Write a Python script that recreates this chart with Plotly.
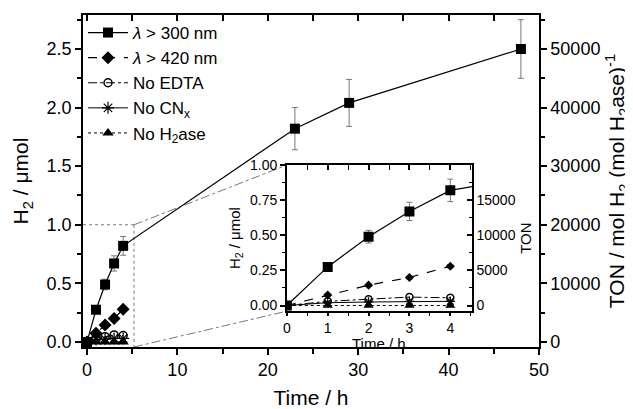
import plotly.graph_objects as go

# ---------------- data ----------------
t_short = [0, 1, 2, 3, 4]
t_long = [0, 1, 2, 3, 4, 23, 29, 48]
h2_300 = [0.0, 0.275, 0.49, 0.67, 0.82, 1.82, 2.04, 2.50]
err_300 = [0.005, 0.02, 0.045, 0.065, 0.08, 0.18, 0.20, 0.25]
h2_420 = [0.0, 0.075, 0.145, 0.20, 0.28]
err_420 = [0.003, 0.006, 0.008, 0.01, 0.012]
h2_noedta = [0.0, 0.03, 0.045, 0.06, 0.055]
h2_nocn = [0.0, 0.02, 0.025, 0.03, 0.03]
h2_noh2ase = [0.0, 0.0, 0.0, 0.0, 0.0]
ton_factor = 20000  # mol H2 per mol H2ase per umol H2
ton_main_ticks = [0, 10000, 20000, 30000, 40000, 50000]
ton_inset_ticks = [0, 5000, 10000, 15000]
zoom_box = (5.2, 1.0)  # region of main plot magnified in the inset

names = ["<i>λ</i> > 300 nm", "<i>λ</i> > 420 nm", "No EDTA",
         "No CN<sub>x</sub>", "No H<sub>2</sub>ase"]

FONT = "Liberation Sans, Arial, sans-serif"
GRAY = "#777777"

# ---------------- layout numbers ----------------
main_x_range = [-0.44, 50]
main_y_range = [-0.043, 2.79]
ins_x_range = [0, 4.53]
ins_y_range = [-0.04, 1.0]
ins_xdom = [0.447, 0.853]
ins_ydom = [0.108, 0.548]

fig = go.Figure()


def series(xa, ya, big):
    out = []
    out.append(go.Scatter(
        x=t_long, y=h2_300, name=names[0], mode="lines+markers",
        line=dict(color="black", width=1.2, dash="solid"),
        marker=dict(symbol="square", size=10, color="black"),
        error_y=dict(type="data", array=err_300, color=GRAY, thickness=1, width=3),
        xaxis=xa, yaxis=ya, showlegend=big, legendrank=1))
    out.append(go.Scatter(
        x=t_short, y=h2_420, name=names[1], mode="lines+markers",
        line=dict(color="black", width=1.2, dash="dash"),
        marker=dict(symbol="diamond", size=10 if big else 7, color="black"),
        error_y=dict(type="data", array=err_420, color=GRAY, thickness=1, width=3),
        xaxis=xa, yaxis=ya, showlegend=big, legendrank=2))
    out.append(go.Scatter(
        x=t_short, y=h2_noedta, name=names[2], mode="lines+markers",
        line=dict(color="black", width=1, dash="dashdot"),
        marker=dict(symbol="circle-open", size=8 if big else 7, color="black",
                    line=dict(width=1.5)),
        xaxis=xa, yaxis=ya, showlegend=big, legendrank=3))
    out.append(go.Scatter(
        x=t_short, y=h2_nocn, name=names[3], mode="lines+markers",
        line=dict(color="black", width=1, dash="solid"),
        marker=dict(symbol="asterisk-open", size=10 if big else 8, color="black",
                    line=dict(width=1.2, color="black")),
        xaxis=xa, yaxis=ya, showlegend=big, legendrank=4))
    out.append(go.Scatter(
        x=t_short, y=h2_noh2ase, name=names[4], mode="lines+markers",
        line=dict(color="black", width=1, dash="dot"),
        marker=dict(symbol="triangle-up", size=10 if big else 9, color="black"),
        xaxis=xa, yaxis=ya, showlegend=big, legendrank=5))
    return out


for tr in series("x", "y", True):
    fig.add_trace(tr)
for tr in series("x3", "y3", False):
    fig.add_trace(tr)

# invisible traces to activate the secondary (TON / top) axes
fig.add_trace(go.Scatter(x=t_long, y=[v * ton_factor for v in h2_300],
                         xaxis="x2", yaxis="y2", mode="markers",
                         marker=dict(opacity=0), showlegend=False, hoverinfo="skip"))
fig.add_trace(go.Scatter(x=t_short, y=[v * ton_factor for v in h2_420],
                         xaxis="x4", yaxis="y4", mode="markers",
                         marker=dict(opacity=0), showlegend=False, hoverinfo="skip"))

common = dict(showline=True, linecolor="black", linewidth=1.5, showgrid=False,
              zeroline=False, tickcolor="black", tickwidth=1.5, automargin=False)


def axtitle(text, size, standoff):
    return dict(text=text, font=dict(family=FONT, size=size, color="black"),
                standoff=standoff)


# inset corner positions in main-axis data coordinates
def px(fx):
    return main_x_range[0] + fx * (main_x_range[1] - main_x_range[0])


def py(fy):
    return main_y_range[0] + fy * (main_y_range[1] - main_y_range[0])


ins_left = px(ins_xdom[0])
ins_top = py(ins_ydom[1])
ins_bot = py(ins_ydom[0])

line_style = dict(color=GRAY, width=1, dash="dot")
shapes = [
    dict(type="line", xref="x", yref="y", x0=main_x_range[0], y0=zoom_box[1],
         x1=zoom_box[0], y1=zoom_box[1], line=line_style, layer="below"),
    dict(type="line", xref="x", yref="y", x0=zoom_box[0], y0=zoom_box[1],
         x1=zoom_box[0], y1=main_y_range[0], line=line_style, layer="below"),
    dict(type="line", xref="x", yref="y", x0=zoom_box[0], y0=zoom_box[1],
         x1=ins_left, y1=ins_top, line=dict(color=GRAY, width=1, dash="dashdot"),
         layer="below"),
    dict(type="line", xref="x", yref="y", x0=zoom_box[0], y0=main_y_range[0],
         x1=ins_left, y1=ins_bot, line=dict(color=GRAY, width=1, dash="dashdot"),
         layer="below"),
]

tf_main = dict(family=FONT, size=18, color="black")
tf_ins = dict(family=FONT, size=14, color="black")

# page body has an 8px margin, so the figure is slightly smaller than the window
fig.update_layout(
    width=625, height=401,
    margin=dict(l=75, r=94, t=7, b=62),
    paper_bgcolor="white", plot_bgcolor="white",
    font=dict(family=FONT, color="black"),
    showlegend=True,
    legend=dict(x=0.0, y=1.0, xanchor="left", yanchor="top",
                bgcolor="rgba(0,0,0,0)", font=dict(family=FONT, size=17, color="black"),
                tracegroupgap=0, itemwidth=40),
    shapes=shapes,
    annotations=[dict(text="Time / h", xref="paper", yref="paper",
                      x=(ins_xdom[0] + ins_xdom[1]) / 2, y=0.01,
                      xanchor="center", yanchor="middle", showarrow=False,
                      font=dict(family=FONT, size=15, color="black"))],
    xaxis=dict(**common, domain=[0, 1], anchor="y", range=main_x_range, dtick=10,
               tick0=0, ticks="outside", ticklen=6, tickfont=tf_main,
               minor=dict(dtick=5, tick0=0, ticks="outside", ticklen=5,
                          tickcolor="black", tickwidth=1.5),
               title=axtitle("Time / h", 21, 14)),
    xaxis2=dict(**common, overlaying="x", side="top", anchor="y", range=main_x_range,
                dtick=10, tick0=0, ticks="inside", ticklen=6, showticklabels=False,
                minor=dict(dtick=5, tick0=0, ticks="inside", ticklen=6,
                           tickcolor="black", tickwidth=1.5)),
    yaxis=dict(**common, domain=[0, 1], anchor="x", range=main_y_range, dtick=0.5,
               tick0=0, tickformat=".1f", ticks="outside", ticklen=6, tickfont=tf_main,
               minor=dict(dtick=0.25, tick0=0, ticks="outside", ticklen=4,
                          tickcolor="black", tickwidth=1.5),
               title=axtitle("H<sub>2</sub> / μmol", 21, 12)),
    yaxis2=dict(**common, overlaying="y", side="right", anchor="x",
                range=[v * ton_factor for v in main_y_range],
                tickmode="array", tickvals=ton_main_ticks,
                ticktext=[str(v) for v in ton_main_ticks],
                ticks="outside", ticklen=6, tickfont=tf_main,
                minor=dict(dtick=5000, tick0=0, ticks="outside", ticklen=4,
                           tickcolor="black", tickwidth=1.5),
                title=axtitle("TON / mol H<sub>2</sub> (mol H<sub>2</sub>ase)<sup>-1</sup>",
                              21, 10)),
    xaxis3=dict(**common, domain=ins_xdom, anchor="y3", range=ins_x_range, dtick=1,
                tick0=0, ticks="outside", ticklen=3, tickfont=tf_ins,
                minor=dict(dtick=0.5, tick0=0, ticks="outside", ticklen=3,
                           tickcolor="black", tickwidth=1.2)),
    xaxis4=dict(**common, overlaying="x3", side="top", anchor="y3", range=ins_x_range,
                dtick=1, tick0=0, ticks="inside", ticklen=5, showticklabels=False,
                minor=dict(dtick=0.5, tick0=0, ticks="inside", ticklen=5,
                           tickcolor="black", tickwidth=1.2)),
    yaxis3=dict(**common, domain=ins_ydom, anchor="x3", range=ins_y_range, dtick=0.25,
                tick0=0, tickformat=".2f", ticks="outside", ticklen=5, tickfont=tf_ins,
                minor=dict(dtick=0.125, tick0=0, ticks="outside", ticklen=3,
                           tickcolor="black", tickwidth=1.2),
                title=axtitle("H<sub>2</sub> / μmol", 15, 6)),
    yaxis4=dict(**common, overlaying="y3", side="right", anchor="x3",
                range=[v * ton_factor for v in ins_y_range],
                tickmode="array", tickvals=ton_inset_ticks,
                ticktext=[str(v) for v in ton_inset_ticks],
                ticks="inside", ticklen=5, tickfont=tf_ins,
                minor=dict(dtick=2500, tick0=0, ticks="inside", ticklen=3,
                           tickcolor="black", tickwidth=1.2),
                title=axtitle("TON", 15, 6)),
)

fig.write_html("out.html")
